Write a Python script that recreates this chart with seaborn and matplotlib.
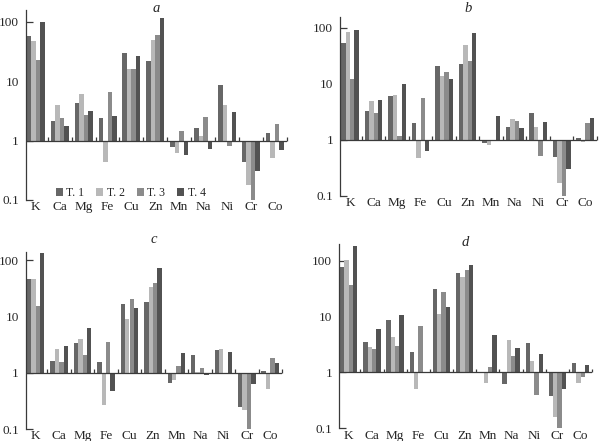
import numpy as np
import pandas as pd
import seaborn as sns
import matplotlib.pyplot as plt

elements = ['K', 'Ca', 'Mg', 'Fe', 'Cu', 'Zn', 'Mn', 'Na', 'Ni', 'Cr', 'Co']
treatments = ['T. 1', 'T. 2', 'T. 3', 'T. 4']

# panel a
a_t1 = [58, 2.1, 4.3, 2.4, 30, 21.5, 0.78, 1.6, 8.7, 0.44, 1.35]
a_t2 = [48, 4.0, 6.2, 0.44, 16.3, 50, 0.62, 1.18, 3.9, 0.18, 0.5]
a_t3 = [22.6, 2.4, 2.7, 6.7, 16.3, 59, 1.44, 2.5, 0.8, 0.1, 1.9]
a_t4 = [99, 1.75, 3.2, 2.6, 27, 117, 0.57, 0.71, 3.0, 0.31, 0.7]
# panel b
b_t1 = [54, 3.25, 6.0, 1.96, 20.7, 23, 0.87, 1.68, 3.0, 0.5, 1.07]
b_t2 = [84, 4.9, 6.4, 0.48, 14.1, 49, 0.81, 2.4, 1.68, 0.17, 0.93]
b_t3 = [12.3, 3.0, 1.16, 5.5, 16.2, 25.4, 0.98, 2.2, 0.52, 0.1, 1.96]
b_t4 = [93, 5.25, 10, 0.63, 12.3, 81, 2.7, 1.64, 2.07, 0.3, 2.47]
# panel c
c_t1 = [46, 1.59, 3.4, 1.53, 17, 18.2, 0.66, 2.1, 2.5, 0.25, 1.07]
c_t2 = [46, 2.6, 4.0, 0.27, 9.2, 34, 0.74, 1.02, 2.67, 0.22, 0.51]
c_t3 = [15.5, 1.53, 2.1, 3.5, 20.6, 39.7, 1.33, 1.24, 0.98, 0.1, 1.8]
c_t4 = [135, 2.97, 6.3, 0.47, 14, 73, 2.26, 0.91, 2.36, 0.63, 1.5]
# panel d
d_t1 = [78, 3.5, 8.6, 2.3, 31, 60, 0.98, 0.62, 3.4, 0.38, 1.45]
d_t2 = [103, 2.8, 4.2, 0.5, 11, 50, 0.64, 3.8, 1.6, 0.16, 0.65]
d_t3 = [36, 2.65, 3.0, 6.7, 27, 67, 1.25, 1.96, 0.4, 0.1, 0.83]
d_t4 = [183, 6.0, 10.4, 0.97, 14.5, 83, 4.7, 2.7, 2.15, 0.5, 1.37]

panels = {
    'a': [a_t1, a_t2, a_t3, a_t4],
    'b': [b_t1, b_t2, b_t3, b_t4],
    'c': [c_t1, c_t2, c_t3, c_t4],
    'd': [d_t1, d_t2, d_t3, d_t4],
}

sns.set_theme(style='ticks')
plt.rcParams['font.family'] = ['Liberation Serif', 'DejaVu Serif']

colors = ['#676767', '#b8b8b8', '#8b8b8b', '#525252']

# axes boxes [left, bottom, width, height], upper limit (log10), title height
layout = {
    'a': ([0.043, 0.5465, 0.435, 0.431], 2.2, 1.01),
    'b': ([0.567, 0.556, 0.428, 0.406], 2.2, 1.047),
    'c': ([0.043, 0.027, 0.427, 0.402], 2.15, 1.071),
    'd': ([0.565, 0.029, 0.422, 0.417], 2.29, 1.008),
}

fig = plt.figure(figsize=(6, 4.41), dpi=100)

for name, series in panels.items():
    box, top, ty = layout[name]
    ax = fig.add_axes(box)

    rows = []
    for t, vals in zip(treatments, series):
        for el, v in zip(elements, vals):
            rows.append({'element': el, 'treatment': t, 'value': v})
    df = pd.DataFrame(rows)
    # bars grow from 1 on a log axis -> plot log10 of the value
    df['logv'] = np.log10(df['value'])

    sns.barplot(data=df, x='element', y='logv', hue='treatment',
                palette=colors, width=0.75, gap=0, saturation=1,
                linewidth=0, legend=(name == 'a'), ax=ax)

    ax.set_xlim(-0.42, 10.5)
    ax.set_ylim(-1, top)
    ax.set_yticks([-1, 0, 1, 2])
    ax.set_yticklabels(['0.1', '1', '10', '100'])
    ax.set_xlabel('')
    ax.set_ylabel('')

    ax.axhline(0, color='#3a3a3a', lw=0.9, zorder=3)
    ax.vlines(np.arange(len(elements)) + 0.5, 0, 0.06, color='#3a3a3a',
              lw=0.9, zorder=3, clip_on=False)

    for s in ['top', 'right', 'bottom']:
        ax.spines[s].set_visible(False)
    ax.spines['left'].set_color('#3a3a3a')
    ax.spines['left'].set_linewidth(0.9)
    ax.tick_params(axis='y', direction='in', length=5, width=0.9,
                   color='#3a3a3a', labelsize=9.5, pad=5)
    ax.tick_params(axis='x', length=0, labelsize=9.5, pad=1)
    ax.minorticks_off()

    ax.text(0.5, ty, name, transform=ax.transAxes, ha='center', va='center',
            fontstyle='italic', fontsize=10.5)

    if name == 'a':
        ax.legend(loc='center', bbox_to_anchor=(0.402, 0.035), ncol=4,
                  frameon=False, fontsize=8.5, handlelength=0.6,
                  handleheight=0.6, handletextpad=0.3, columnspacing=1.0,
                  borderpad=0)

fig.savefig('out.png', dpi=100)
